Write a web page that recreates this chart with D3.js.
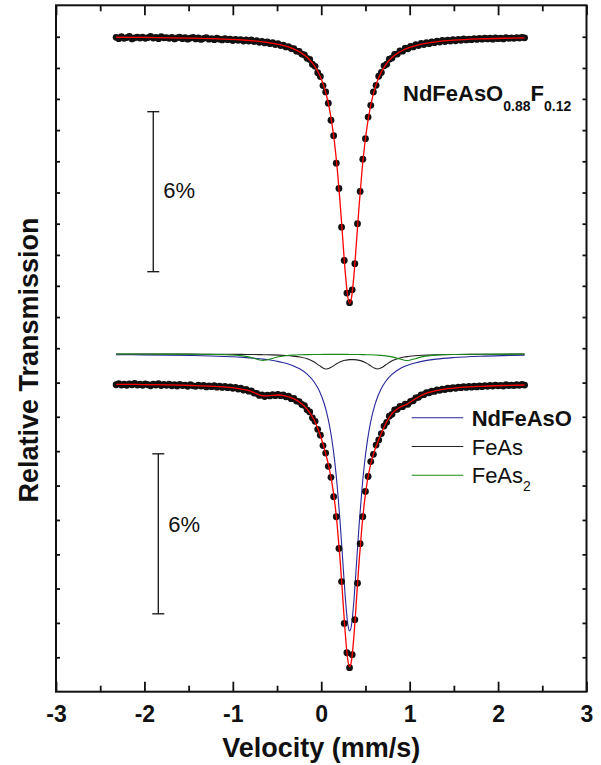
<!DOCTYPE html>
<html>
<head>
<meta charset="utf-8">
<script src="https://cdn.jsdelivr.net/npm/d3@7"></script>
<style>
  body { margin: 0; background: #fff; }
  text { font-family: "Liberation Sans", Arial, Helvetica, sans-serif; fill: #111; }
</style>
</head>
<body>
<div id="chart"></div>
<script>
// channel calibration (mm/s): v = velStart + i * velStep
var velStart = -2.32, velStep = 0.03;

// measured points, absorption in % below each spectrum's baseline
var upperData = [
  0.03, 0.08, 0.01, 0.07, 0.04, 0.00, 0.09, 0.05, 0.02, 0.06,
  0.02, 0.07, 0.04, 0.00, 0.06, 0.03, 0.08, 0.01, 0.05, 0.04,
  0.07, 0.03, 0.09, 0.05, 0.02, 0.08, 0.04, 0.10, 0.06, 0.03,
  0.09, 0.05, 0.11, 0.07, 0.04, 0.10, 0.08, 0.12, 0.06, 0.10,
  0.13, 0.08, 0.12, 0.10, 0.15, 0.11, 0.14, 0.12, 0.17, 0.13,
  0.17, 0.13, 0.19, 0.16, 0.22, 0.18, 0.24, 0.20, 0.27, 0.23,
  0.30, 0.27, 0.34, 0.32, 0.39, 0.38, 0.45, 0.46, 0.55, 0.56,
  0.66, 0.69, 0.82, 0.86, 1.04, 1.12, 1.36, 1.50, 1.84, 2.08,
  2.50, 3.14, 3.72, 4.75, 5.70, 7.15, 8.40, 9.62, 9.98, 9.50,
  8.52, 7.02, 5.81, 4.60, 3.83, 3.02, 2.58, 2.08, 1.83, 1.49,
  1.35, 1.10, 1.04, 0.85, 0.81, 0.67, 0.66, 0.54, 0.55, 0.44,
  0.46, 0.37, 0.39, 0.31, 0.34, 0.26, 0.30, 0.23, 0.27, 0.20,
  0.23, 0.17, 0.21, 0.15, 0.19, 0.14, 0.17, 0.12, 0.16, 0.11,
  0.14, 0.09, 0.13, 0.10, 0.12, 0.08, 0.11, 0.07, 0.10, 0.06,
  0.09, 0.06, 0.10, 0.05, 0.08, 0.06, 0.09, 0.04, 0.07, 0.05,
  0.07, 0.04, 0.06, 0.03, 0.05
];
var lowerData = [
  0.05, 0.01, 0.06, 0.03, 0.07, 0.02, 0.05, 0.00, 0.06, 0.03,
  0.07, 0.02, 0.05, 0.09, 0.03, 0.06, 0.01, 0.08, 0.04, 0.07,
  0.03, 0.09, 0.05, 0.10, 0.04, 0.08, 0.06, 0.11, 0.05, 0.09,
  0.11, 0.06, 0.10, 0.07, 0.13, 0.09, 0.12, 0.08, 0.14, 0.10,
  0.15, 0.11, 0.16, 0.13, 0.18, 0.15, 0.21, 0.18, 0.25, 0.22,
  0.29, 0.28, 0.36, 0.37, 0.45, 0.43, 0.49, 0.44, 0.47, 0.42,
  0.46, 0.41, 0.46, 0.43, 0.50, 0.48, 0.57, 0.56, 0.66, 0.68,
  0.79, 0.83, 0.99, 1.07, 1.29, 1.42, 1.72, 1.94, 2.33, 2.61,
  3.11, 3.52, 4.25, 5.00, 6.19, 7.43, 9.00, 10.10, 10.66, 10.17,
  8.86, 7.49, 6.01, 5.00, 4.05, 3.49, 2.93, 2.66, 2.31, 2.12,
  1.88, 1.60, 1.46, 1.23, 1.16, 0.99, 0.97, 0.86, 0.87, 0.78,
  0.78, 0.67, 0.65, 0.54, 0.52, 0.43, 0.42, 0.35, 0.35, 0.29,
  0.30, 0.24, 0.26, 0.21, 0.23, 0.18, 0.20, 0.16, 0.18, 0.14,
  0.16, 0.12, 0.15, 0.11, 0.14, 0.10, 0.13, 0.09, 0.12, 0.08,
  0.11, 0.07, 0.10, 0.06, 0.09, 0.07, 0.10, 0.05, 0.08, 0.06,
  0.08, 0.05, 0.07, 0.04, 0.06
];

// fitted curves (absorption %), sampled at fitVel
var fitVel = [-2.32, -2.0, -1.7, -1.45, -1.25, -1.1, -0.95, -0.85, -0.76, -0.70,
  -0.66, -0.62, -0.56, -0.48, -0.40, -0.32, -0.24, -0.16, -0.08, -0.02,
  0.03, 0.06, 0.09, 0.12, 0.15, 0.18, 0.21, 0.24, 0.27, 0.30,
  0.32, 0.34, 0.37, 0.40, 0.43, 0.46, 0.49, 0.52, 0.56, 0.60,
  0.64, 0.68, 0.73, 0.80, 0.88, 0.94, 0.97, 1.00, 1.06, 1.15,
  1.30, 1.50, 1.80, 2.05, 2.30];
var upperFit = [0.028, 0.036, 0.048, 0.062, 0.079, 0.096, 0.120, 0.141, 0.165, 0.184,
  0.199, 0.216, 0.246, 0.296, 0.362, 0.454, 0.585, 0.778, 1.082, 1.435,
  1.869, 2.221, 2.669, 3.245, 3.984, 4.928, 6.098, 7.446, 8.787, 9.759,
  10.0, 9.837, 8.948, 7.631, 6.269, 5.072, 4.098, 3.333, 2.571, 2.023,
  1.624, 1.327, 1.053, 0.790, 0.592, 0.488, 0.446, 0.409, 0.347, 0.278,
  0.201, 0.139, 0.089, 0.065, 0.050];
var lowerFit = [0.033, 0.043, 0.057, 0.077, 0.101, 0.131, 0.182, 0.246, 0.345, 0.426,
  0.462, 0.468, 0.445, 0.434, 0.474, 0.563, 0.714, 0.961, 1.374, 1.857,
  2.388, 2.758, 3.182, 3.708, 4.395, 5.306, 6.475, 7.872, 9.302, 10.36,
  10.62, 10.44, 9.455, 8.031, 6.598, 5.374, 4.412, 3.687, 3.008, 2.548,
  2.191, 1.867, 1.502, 1.134, 0.911, 0.821, 0.774, 0.716, 0.583, 0.418,
  0.269, 0.174, 0.107, 0.077, 0.059];
var ndFeAsOFit = [0.027, 0.035, 0.046, 0.060, 0.076, 0.093, 0.116, 0.136, 0.159, 0.178,
  0.193, 0.209, 0.238, 0.286, 0.351, 0.440, 0.567, 0.756, 1.053, 1.401,
  1.830, 2.180, 2.628, 3.208, 3.961, 4.934, 6.155, 7.590, 9.047, 10.12,
  10.39, 10.21, 9.224, 7.789, 6.335, 5.081, 4.077, 3.297, 2.529, 1.983,
  1.586, 1.293, 1.025, 0.767, 0.575, 0.473, 0.432, 0.396, 0.337, 0.269,
  0.194, 0.135, 0.086, 0.063, 0.048];
var feAsFit = [0.003, 0.004, 0.006, 0.007, 0.010, 0.012, 0.015, 0.018, 0.022, 0.025,
  0.027, 0.030, 0.035, 0.045, 0.059, 0.080, 0.116, 0.181, 0.301, 0.438,
  0.541, 0.561, 0.538, 0.484, 0.418, 0.356, 0.305, 0.266, 0.238, 0.221,
  0.214, 0.211, 0.212, 0.222, 0.241, 0.269, 0.309, 0.362, 0.447, 0.528,
  0.561, 0.520, 0.406, 0.258, 0.158, 0.114, 0.099, 0.086, 0.067, 0.049,
  0.032, 0.020, 0.012, 0.008, 0.006];
var feAs2Fit = [0.002, 0.004, 0.006, 0.009, 0.016, 0.026, 0.051, 0.091, 0.164, 0.223,
  0.242, 0.229, 0.172, 0.104, 0.064, 0.043, 0.031, 0.024, 0.020, 0.018,
  0.017, 0.016, 0.016, 0.016, 0.016, 0.016, 0.016, 0.016, 0.017, 0.017,
  0.018, 0.018, 0.019, 0.020, 0.022, 0.024, 0.026, 0.028, 0.032, 0.038,
  0.045, 0.054, 0.071, 0.108, 0.179, 0.233, 0.243, 0.233, 0.179, 0.101,
  0.043, 0.019, 0.009, 0.006, 0.004];

// baselines in relative transmission (%)
var upperBase = 100, lowerBase = 86.99, compBase = 88.095;

var xTicks = [-3, -2, -1, 0, 1, 2, 3];
var xMinorTicks = [-2.5, -1.5, -0.5, 0.5, 1.5, 2.5];
var yTicks = [99.99, 98.82, 97.66, 96.49, 95.32, 94.15, 92.98, 91.81, 90.65, 89.48, 88.31,
  87.02, 85.74, 84.45, 83.16, 81.87, 80.58, 79.30, 78.01, 76.72];

var legendItems = ["NdFeAsO", "FeAs", "FeAs2"];

var width = 601, height = 765;
var svg = d3.select("#chart").append("svg")
  .attr("width", width).attr("height", height);

var x = d3.scaleLinear().domain([-3, 3]).range([56, 586.5]);
var y = d3.scaleLinear().domain([75.43, 101.17]).range([691.7, 5.3]);

function toPts(vals, base) {
  return vals.map(function (a, i) { return [fitVel[i], base - a]; });
}

var line = d3.line()
  .x(function (d) { return x(d[0]); })
  .y(function (d) { return y(d[1]); })
  .curve(d3.curveMonotoneX);

// component subspectra
var comps = [
  { vals: ndFeAsOFit, color: "#26269a" },
  { vals: feAsFit, color: "#222" },
  { vals: feAs2Fit, color: "#1a8a1a" }
];
comps.forEach(function (c) {
  svg.append("path")
    .attr("d", line(toPts(c.vals, compBase)))
    .attr("fill", "none")
    .attr("stroke", c.color)
    .attr("stroke-width", 1.1);
});

// data points
function dots(vals, base) {
  svg.append("g").selectAll("circle")
    .data(vals)
    .enter().append("circle")
    .attr("cx", function (d, i) { return x(velStart + i * velStep); })
    .attr("cy", function (d) { return y(base - d); })
    .attr("r", 3.4)
    .attr("fill", "#111");
}
dots(upperData, upperBase);
dots(lowerData, lowerBase);

// fit lines on top
[[upperFit, upperBase], [lowerFit, lowerBase]].forEach(function (f) {
  svg.append("path")
    .attr("d", line(toPts(f[0], f[1])))
    .attr("fill", "none")
    .attr("stroke", "#ff0000")
    .attr("stroke-width", 1.3);
});

// axes: ticks point inward
function styleAxis(g) {
  g.select(".domain").remove();
  g.selectAll(".tick line").attr("stroke", "#111").attr("stroke-width", 1.8);
}
var noLabel = function () { return ""; };

svg.append("g").attr("transform", "translate(0,691.7)")
  .call(d3.axisBottom(x).tickValues(xTicks).tickSize(-10).tickPadding(14)
    .tickFormat(function (d) { return String(d); }))
  .call(styleAxis)
  .call(function (g) {
    g.selectAll("text").attr("fill", "#111")
      .style("font-size", "23px").style("font-weight", "bold")
      .style("font-family", "'Liberation Sans', Arial, sans-serif");
  });
svg.append("g").attr("transform", "translate(0,691.7)")
  .call(d3.axisBottom(x).tickValues(xMinorTicks).tickSize(-6).tickFormat(noLabel))
  .call(styleAxis);
svg.append("g").attr("transform", "translate(0,5.3)")
  .call(d3.axisTop(x).tickValues(xTicks).tickSize(-10).tickFormat(noLabel))
  .call(styleAxis);
svg.append("g").attr("transform", "translate(0,5.3)")
  .call(d3.axisTop(x).tickValues(xMinorTicks).tickSize(-6).tickFormat(noLabel))
  .call(styleAxis);
svg.append("g").attr("transform", "translate(56,0)")
  .call(d3.axisLeft(y).tickValues(yTicks).tickSize(-4).tickFormat(noLabel))
  .call(styleAxis);
svg.append("g").attr("transform", "translate(586.5,0)")
  .call(d3.axisRight(y).tickValues(yTicks).tickSize(-4).tickFormat(noLabel))
  .call(styleAxis);

// frame
svg.append("rect")
  .attr("x", 56).attr("y", 5.3)
  .attr("width", 586.5 - 56).attr("height", 691.7 - 5.3)
  .attr("fill", "none").attr("stroke", "#111").attr("stroke-width", 2);

// axis titles
svg.append("text")
  .attr("x", x(0)).attr("y", 757)
  .attr("text-anchor", "middle")
  .style("font-size", "27px").style("font-weight", "bold")
  .text("Velocity (mm/s)");
svg.append("text")
  .attr("transform", "translate(38,360) rotate(-90)")
  .attr("text-anchor", "middle")
  .style("font-size", "27px").style("font-weight", "bold")
  .text("Relative Transmission");

// 6% scale bars
var bars = [
  { v: -1.90, top: 97.18, tx: 10, ty: 6 },
  { v: -1.843, top: 84.35, tx: 10, ty: -2 }
];
bars.forEach(function (b) {
  var g = svg.append("g").attr("stroke", "#111").attr("stroke-width", 1.3);
  var bx = x(b.v), y0 = y(b.top), y1 = y(b.top - 6);
  g.append("line").attr("x1", bx).attr("x2", bx).attr("y1", y0).attr("y2", y1);
  g.append("line").attr("x1", bx - 6).attr("x2", bx + 6).attr("y1", y0).attr("y2", y0);
  g.append("line").attr("x1", bx - 6).attr("x2", bx + 6).attr("y1", y1).attr("y2", y1);
  svg.append("text")
    .attr("x", bx + b.tx).attr("y", (y0 + y1) / 2 + b.ty)
    .style("font-size", "22px")
    .text("6%");
});

// sample title
var title = svg.append("text")
  .attr("x", 403).attr("y", 101)
  .style("font-size", "22px").style("font-weight", "bold");
title.append("tspan").text("NdFeAsO");
title.append("tspan").attr("dy", 10).style("font-size", "14px").text("0.88");
title.append("tspan").attr("dy", -10).text("F");
title.append("tspan").attr("dy", 10).style("font-size", "14px").text("0.12");

// legend
legendItems.forEach(function (name, i) {
  var ly = 417.7 + i * 28.8;
  svg.append("line")
    .attr("x1", 411.7).attr("x2", 463.3).attr("y1", ly).attr("y2", ly)
    .attr("stroke", comps[i].color).attr("stroke-width", 1.1);
  var t = svg.append("text")
    .attr("x", 471.7).attr("y", ly + 8)
    .style("font-size", "22px")
    .style("font-weight", i === 0 ? "bold" : "normal");
  if (name === "FeAs2") {
    t.append("tspan").text("FeAs");
    t.append("tspan").attr("dy", 8).style("font-size", "14px").text("2");
  } else {
    t.text(name);
  }
});
</script>
</body>
</html>
